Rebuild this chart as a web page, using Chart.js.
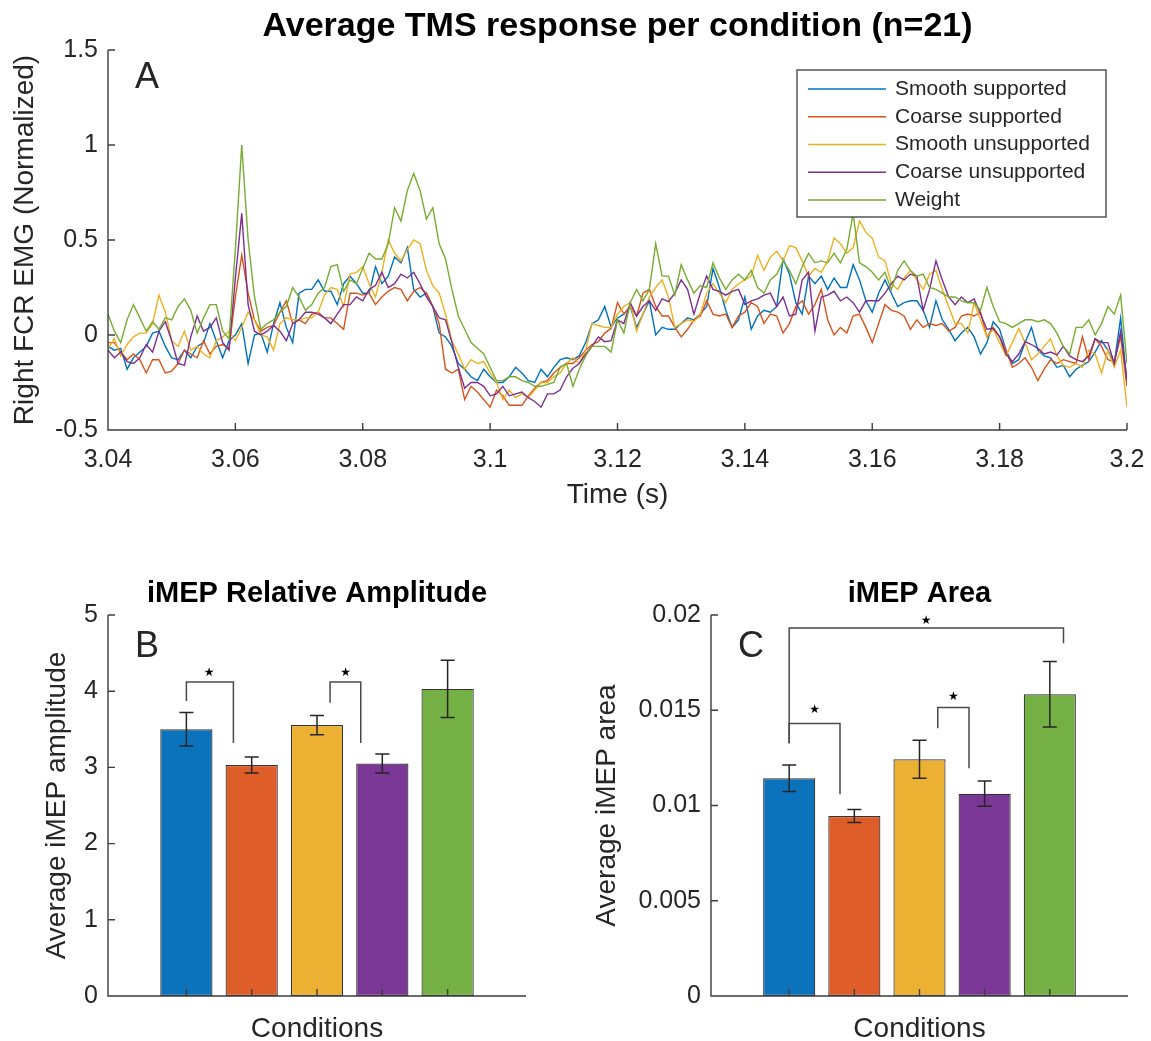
<!DOCTYPE html>
<html>
<head>
<meta charset="utf-8">
<script src="https://cdn.jsdelivr.net/npm/chart.js@4.4.1/dist/chart.umd.min.js"></script>
<style>
  html, body { margin: 0; padding: 0; background: #fff; }
  #wrap { position: relative; width: 1151px; height: 1041px; }
  canvas { position: absolute; }
</style>
</head>
<body>
<div id="wrap">
  <canvas id="emg" width="1151" height="530" style="left:0;top:0"></canvas>
  <canvas id="amp" width="575" height="481" style="left:0;top:560px"></canvas>
  <canvas id="area" width="576" height="481" style="left:575px;top:560px"></canvas>
</div>
<script>
// ---- data (panel A: 1 ms samples from 3.040 s to 3.200 s) ----
const conditions = ['Smooth supported', 'Coarse supported', 'Smooth unsupported', 'Coarse unsupported', 'Weight'];
const sampleStart = 3.04;
const sampleStep = 0.001;
const timeTicks = [3.04, 3.06, 3.08, 3.1, 3.12, 3.14, 3.16, 3.18, 3.2];
const emgTicks = [-0.5, 0, 0.5, 1, 1.5];

const smoothSupported = [
  -0.06,-0.08,-0.07,-0.18,-0.12,-0.09,-0.06,0.01,0.02,-0.06,
  -0.12,-0.13,-0.08,-0.12,-0.06,-0.04,0.06,-0.03,-0.12,-0.03,
  0.00,0.06,-0.15,0.00,0.01,-0.09,0.06,0.17,0.04,-0.04,
  0.22,0.24,0.24,0.29,0.23,0.23,0.16,0.27,0.31,0.27,
  0.22,0.22,0.36,0.27,0.31,0.41,0.38,0.46,0.24,0.20,
  0.22,0.15,0.01,-0.01,-0.06,-0.15,-0.18,-0.22,-0.24,-0.18,
  -0.22,-0.25,-0.25,-0.22,-0.17,-0.20,-0.24,-0.25,-0.18,-0.22,
  -0.17,-0.13,-0.12,-0.13,-0.11,-0.04,0.06,0.08,0.15,0.04,
  0.09,0.11,0.15,0.04,0.11,0.18,0.00,0.04,0.03,0.03,
  0.06,0.09,0.08,0.11,0.15,0.35,0.25,0.13,0.04,0.08,
  0.20,0.03,0.10,0.13,0.12,0.15,0.40,0.32,0.17,0.11,
  0.31,0.27,0.31,0.24,0.30,0.25,0.25,0.37,0.29,0.18,
  0.12,0.22,0.29,0.22,0.15,0.17,0.18,0.18,0.13,0.04,
  0.18,0.08,0.03,-0.03,0.01,0.04,-0.01,-0.10,-0.04,0.07,
  0.03,-0.08,-0.15,-0.13,-0.04,0.04,-0.08,-0.11,-0.12,-0.17,
  -0.16,-0.22,-0.18,-0.16,-0.14,-0.09,-0.03,-0.08,-0.15,0.09,
  -0.25
];
const coarseSupported = [
  -0.04,-0.04,-0.09,-0.13,-0.10,-0.13,-0.20,-0.13,-0.13,-0.20,
  -0.19,-0.15,-0.08,-0.10,-0.12,-0.03,-0.10,-0.06,-0.05,-0.07,
  0.20,0.42,0.22,0.08,0.02,0.04,0.05,0.12,0.18,0.06,
  0.08,0.06,0.11,0.12,0.09,0.09,0.06,0.03,0.22,0.22,
  0.21,0.22,0.16,0.20,0.23,0.25,0.24,0.18,0.23,0.25,
  0.22,0.15,0.06,-0.18,-0.20,-0.18,-0.34,-0.27,-0.30,-0.34,
  -0.38,-0.29,-0.32,-0.37,-0.37,-0.37,-0.32,-0.28,-0.25,-0.24,
  -0.20,-0.17,-0.15,-0.15,-0.12,-0.08,-0.05,-0.035,0.01,0.035,
  0.17,0.11,0.15,0.10,0.22,0.24,0.15,0.10,0.10,0.04,
  -0.01,0.03,0.08,0.10,0.18,0.11,0.10,0.11,0.04,0.10,
  0.12,0.17,0.15,0.06,0.11,0.10,0.01,0.06,0.15,0.18,
  0.11,0.16,0.24,0.08,0.00,0.04,0.01,0.10,0.11,0.04,
  -0.04,0.06,0.16,0.13,0.12,0.10,0.03,0.08,0.04,0.06,
  0.05,0.06,0.02,0.04,0.10,0.11,0.10,0.12,-0.01,0.04,
  -0.01,-0.08,-0.17,-0.15,-0.12,-0.17,-0.24,-0.18,-0.13,-0.15,
  -0.13,-0.14,-0.15,-0.01,-0.13,-0.02,-0.06,-0.13,-0.14,-0.01,
  -0.27
];
const smoothUnsupported = [
  -0.07,-0.02,-0.11,-0.05,-0.01,0.01,0.01,0.06,0.21,0.12,
  -0.03,-0.06,0.02,-0.08,-0.06,-0.10,-0.12,-0.03,-0.01,0.02,
  -0.03,0.04,0.12,0.08,0.00,-0.01,-0.08,0.06,0.09,0.08,
  0.08,0.09,0.09,0.12,0.21,0.25,0.24,0.15,0.32,0.33,
  0.36,0.27,0.20,0.33,0.50,0.43,0.39,0.45,0.50,0.48,
  0.34,0.26,0.22,0.11,-0.03,-0.10,-0.18,-0.13,-0.15,-0.14,
  -0.20,-0.25,-0.34,-0.29,-0.33,-0.31,-0.33,-0.29,-0.25,-0.25,
  -0.22,-0.20,-0.15,-0.12,-0.15,-0.08,0.06,0.05,0.04,0.04,
  0.11,0.15,0.17,0.02,0.11,0.20,0.25,0.29,0.20,0.04,
  0.06,0.08,0.07,0.11,0.22,0.27,0.22,0.17,0.24,0.27,
  0.29,0.31,0.42,0.34,0.41,0.44,0.39,0.47,0.46,0.39,
  0.31,0.35,0.33,0.39,0.51,0.48,0.43,0.46,0.60,0.54,
  0.51,0.41,0.39,0.27,0.24,0.30,0.34,0.29,0.24,0.32,
  0.34,0.24,0.15,0.06,0.06,0.01,0.17,0.08,-0.01,0.03,
  -0.04,-0.11,-0.04,0.035,-0.04,-0.13,-0.10,-0.06,-0.02,-0.11,
  -0.16,-0.17,-0.15,-0.17,-0.08,-0.10,-0.20,-0.08,-0.17,-0.08,
  -0.38
];
const coarseUnsupported = [
  -0.08,-0.12,-0.09,-0.14,-0.15,-0.12,-0.05,-0.09,0.02,0.07,
  -0.03,-0.15,-0.16,-0.01,0.10,0.02,0.04,0.09,-0.04,-0.08,
  0.30,0.64,0.16,0.02,0.00,0.02,0.05,0.02,-0.03,0.06,
  0.08,0.12,0.12,0.11,0.09,0.06,0.11,0.16,0.16,0.20,
  0.18,0.24,0.26,0.33,0.25,0.27,0.32,0.30,0.33,0.27,
  0.20,0.15,0.09,0.08,-0.04,-0.17,-0.28,-0.25,-0.25,-0.27,
  -0.32,-0.31,-0.27,-0.32,-0.31,-0.30,-0.33,-0.35,-0.38,-0.31,
  -0.31,-0.29,-0.22,-0.175,-0.15,-0.10,-0.06,-0.01,-0.035,-0.03,
  0.08,0.06,0.17,0.10,0.15,0.18,0.13,0.19,0.175,0.22,
  0.29,0.24,0.11,0.22,0.31,0.24,0.23,0.21,0.23,0.24,
  0.16,0.18,0.19,0.21,0.22,0.15,0.20,0.10,0.11,0.29,
  0.33,0.02,0.20,0.21,0.23,0.18,0.20,0.17,0.12,0.18,
  0.18,0.18,0.22,0.27,0.31,0.29,0.32,0.31,0.13,0.24,
  0.39,0.29,0.20,0.16,0.20,0.17,0.19,0.11,0.03,0.035,
  -0.01,-0.10,-0.14,-0.10,-0.035,-0.05,-0.07,-0.10,-0.09,-0.105,
  -0.06,-0.11,-0.13,-0.14,-0.11,-0.02,-0.04,-0.04,-0.15,0.02,
  -0.24
];
const weight = [
  0.11,0.02,-0.04,0.08,0.16,0.09,0.02,0.07,0.03,0.09,
  0.08,0.15,0.19,0.13,0.01,0.09,0.16,0.16,0.02,-0.02,
  0.45,1.00,0.50,0.20,0.03,0.06,0.08,0.12,0.15,0.25,
  0.20,0.13,0.16,0.22,0.25,0.36,0.37,0.23,0.29,0.27,
  0.35,0.43,0.40,0.40,0.48,0.67,0.60,0.76,0.85,0.76,
  0.61,0.67,0.48,0.40,0.24,0.10,0.03,-0.04,-0.07,-0.10,
  -0.17,-0.24,-0.24,-0.22,-0.22,-0.24,-0.25,-0.27,-0.27,-0.26,
  -0.25,-0.17,-0.15,-0.27,-0.18,-0.11,-0.06,-0.06,-0.06,-0.09,
  0.08,0.01,0.17,0.24,0.18,0.24,0.48,0.31,0.31,0.21,
  0.37,0.29,0.22,0.26,0.25,0.38,0.30,0.24,0.29,0.32,
  0.29,0.34,0.25,0.22,0.29,0.32,0.39,0.34,0.27,0.36,
  0.43,0.38,0.39,0.38,0.43,0.38,0.45,0.64,0.38,0.36,
  0.33,0.29,0.33,0.24,0.34,0.39,0.34,0.31,0.32,0.25,
  0.24,0.22,0.20,0.20,0.18,0.17,0.17,0.13,0.25,0.15,
  0.07,0.06,0.04,0.06,0.08,0.08,0.07,0.08,0.06,0.01,
  -0.06,-0.10,0.04,0.04,0.08,0.00,0.06,0.15,0.11,0.21,
  -0.15
];

// ---- data (panels B and C) ----
const ampMean = [3.50, 3.03, 3.555, 3.05, 4.03];
const ampErr = [0.22, 0.105, 0.125, 0.125, 0.375];
const ampTicks = [0, 1, 2, 3, 4, 5];
// bracket: [x left, x right, y top, y left leg end, y right leg end]
const ampBrackets = [[1, 1.72, 4.12, 3.87, 3.32], [3.2, 3.67, 4.12, 3.85, 3.32]];
const ampStars = [[1.35, 4.24], [3.44, 4.24]];

const areaMean = [0.01143, 0.00945, 0.01243, 0.01062, 0.01584];
const areaErr = [0.0007, 0.00034, 0.001, 0.00066, 0.00172];
const areaTicks = [0, 0.005, 0.01, 0.015, 0.02];
const areaBrackets = [[1, 5.21, 0.01932, 0.01327, 0.01852], [1, 1.78, 0.01431, 0.01327, 0.01059], [3.28, 3.76, 0.01515, 0.01405, 0.01195]];
const areaStars = [[3.1, 0.0197], [1.39, 0.01501], [3.52, 0.01568]];

const lineColors = ['#0072BD', '#D95319', '#EDB120', '#7E2F8E', '#77AC30'];
const barColors = ['#0b73bc', '#de5d29', '#ecb033', '#7a3795', '#74b043'];

const FONT = '"Liberation Sans", Arial, Helvetica, sans-serif';
const INK = '#262626';
Chart.defaults.font.family = FONT;

const timeS = smoothSupported.map((_, i) => +(sampleStart + i * sampleStep).toFixed(3));

// axes lines, inward ticks, titles, panel letter
const decoPlugin = {
  id: 'deco',
  afterDraw(chart, args, o) {
    const ctx = chart.ctx, a = chart.chartArea;
    const xs = chart.scales.x, ys = chart.scales.y;
    ctx.save();
    ctx.strokeStyle = '#3c3c3c';
    ctx.lineWidth = 1.4;
    ctx.beginPath();
    ctx.moveTo(a.left, a.top);
    ctx.lineTo(a.left, a.bottom);
    ctx.lineTo(a.right, a.bottom);
    xs.ticks.forEach(t => {
      const p = xs.getPixelForValue(t.value);
      ctx.moveTo(p, a.bottom);
      ctx.lineTo(p, a.bottom - o.tickLen);
    });
    ys.ticks.forEach(t => {
      const p = ys.getPixelForValue(t.value);
      ctx.moveTo(a.left, p);
      ctx.lineTo(a.left + o.tickLen, p);
    });
    ctx.stroke();

    const cx = (a.left + a.right) / 2;
    ctx.textAlign = 'center';
    ctx.textBaseline = 'middle';
    ctx.fillStyle = '#000';
    ctx.font = 'bold ' + o.titleSize + 'px ' + FONT;
    ctx.fillText(o.title, cx, o.titleY);
    ctx.fillStyle = INK;
    ctx.font = '28px ' + FONT;
    ctx.fillText(o.xTitle, cx, o.xTitleY);
    ctx.save();
    ctx.translate(o.yTitleX, (a.top + a.bottom) / 2);
    ctx.rotate(-Math.PI / 2);
    ctx.fillText(o.yTitle, 0, 0);
    ctx.restore();
    ctx.textAlign = 'left';
    ctx.textBaseline = 'alphabetic';
    ctx.font = '36px ' + FONT;
    ctx.fillText(o.letter, o.letterX, o.letterY);
    ctx.restore();
  }
};

const boxLegend = {
  id: 'boxLegend',
  afterDraw(chart, args, o) {
    if (!o.show) return;
    const ctx = chart.ctx;
    ctx.save();
    ctx.fillStyle = '#fff';
    ctx.fillRect(o.x, o.y, o.w, o.h);
    ctx.strokeStyle = '#3c3c3c';
    ctx.lineWidth = 1.3;
    ctx.strokeRect(o.x, o.y, o.w, o.h);
    ctx.font = '21px ' + FONT;
    ctx.textBaseline = 'middle';
    ctx.fillStyle = INK;
    chart.data.datasets.forEach((ds, i) => {
      const y = o.y + o.first + i * o.gap;
      ctx.strokeStyle = ds.borderColor;
      ctx.lineWidth = 1.5;
      ctx.beginPath();
      ctx.moveTo(o.x + 11, y);
      ctx.lineTo(o.x + 89, y);
      ctx.stroke();
      ctx.fillText(ds.label, o.x + 98, y);
    });
    ctx.restore();
  }
};

const errorBars = {
  id: 'errorBars',
  afterDatasetsDraw(chart, args, o) {
    const ctx = chart.ctx, xs = chart.scales.x, ys = chart.scales.y;
    ctx.save();
    chart.data.datasets.forEach((ds, di) => {
      if (!ds.errors) return;
      const meta = chart.getDatasetMeta(di);
      ctx.strokeStyle = INK;
      ctx.lineWidth = 1.5;
      meta.data.forEach((bar, i) => {
        const v = ds.data[i].y, e = ds.errors[i];
        const top = ys.getPixelForValue(v + e), bot = ys.getPixelForValue(v - e);
        ctx.beginPath();
        ctx.moveTo(bar.x, top); ctx.lineTo(bar.x, bot);
        ctx.moveTo(bar.x - 7, top); ctx.lineTo(bar.x + 7, top);
        ctx.moveTo(bar.x - 7, bot); ctx.lineTo(bar.x + 7, bot);
        ctx.stroke();
      });
    });
    // significance stars
    ctx.fillStyle = '#000';
    ctx.font = '12px "DejaVu Sans", sans-serif';
    ctx.textAlign = 'center';
    ctx.textBaseline = 'middle';
    (o.stars || []).forEach(s => {
      ctx.fillText('\u2605', xs.getPixelForValue(s[0]), ys.getPixelForValue(s[1]));
    });
    ctx.restore();
  }
};

// keep the plot box fixed: no extra room for overhanging edge labels
function fixBox(s, size) {
  if (s.isHorizontal()) s.height = size; else s.width = size;
  s.paddingLeft = 0;
  s.paddingRight = 0;
  s.paddingTop = 0;
  s.paddingBottom = 0;
}

// ---- panel A ----
new Chart(document.getElementById('emg'), {
  type: 'line',
  data: {
    datasets: [smoothSupported, coarseSupported, smoothUnsupported, coarseUnsupported, weight].map((s, i) => ({
      label: conditions[i],
      data: s.map((v, k) => ({ x: timeS[k], y: v })),
      borderColor: lineColors[i],
      borderWidth: 1.4,
      pointRadius: 0,
      tension: 0,
      order: 4 - i
    }))
  },
  options: {
    responsive: false,
    animation: false,
    layout: { padding: { top: 50, right: 24, left: 0, bottom: 0 } },
    scales: {
      x: {
        type: 'linear', min: 3.04, max: 3.2,
        afterBuildTicks: s => { s.ticks = timeTicks.map(v => ({ value: v })); },
        afterFit: s => fixBox(s, 100),
        grid: { display: false, drawTicks: false },
        border: { display: false },
        ticks: { color: INK, font: { size: 25 }, padding: 15, maxRotation: 0, autoSkip: false,
                 callback: v => String(+v.toFixed(2)) }
      },
      y: {
        min: -0.5, max: 1.5,
        afterBuildTicks: s => { s.ticks = emgTicks.map(v => ({ value: v })); },
        afterFit: s => fixBox(s, 108),
        grid: { display: false, drawTicks: false },
        border: { display: false },
        ticks: { color: INK, font: { size: 25 }, padding: 10, callback: v => String(v) }
      }
    },
    plugins: {
      legend: { display: false },
      tooltip: { enabled: false },
      deco: { tickLen: 7, title: 'Average TMS response per condition (n=21)', titleSize: 34, titleY: 27,
              xTitle: 'Time (s)', xTitleY: 495, yTitle: 'Right FCR EMG (Normalized)', yTitleX: 25,
              letter: 'A', letterX: 135, letterY: 88 },
      boxLegend: { show: true, x: 797, y: 70, w: 309, h: 147, first: 19, gap: 27.75 }
    }
  },
  plugins: [decoPlugin, boxLegend]
});

// ---- panels B and C ----
function barPanel(id, means, errs, ticks, brackets, stars, yMax, yWidth, padRight, deco) {
  const bars = {
    type: 'bar',
    label: 'mean',
    data: means.map((v, i) => ({ x: i + 1, y: v })),
    errors: errs,
    backgroundColor: barColors,
    borderColor: '#333333',
    borderWidth: 1.2,
    borderSkipped: false,
    barPercentage: 1,
    categoryPercentage: 0.8,
    order: 2
  };
  const lines = brackets.map(b => ({
    type: 'line',
    data: [{ x: b[0], y: b[3] }, { x: b[0], y: b[2] }, { x: b[1], y: b[2] }, { x: b[1], y: b[4] }],
    borderColor: '#4a4a4a',
    borderWidth: 1.5,
    pointRadius: 0,
    tension: 0,
    order: 0
  }));
  return new Chart(document.getElementById(id), {
    type: 'bar',
    data: { datasets: [bars].concat(lines) },
    options: {
      responsive: false,
      animation: false,
      layout: { padding: { top: 55, right: padRight, left: 0, bottom: 0 } },
      scales: {
        x: {
          type: 'linear', min: -0.2, max: 6.2, offset: false,
          afterBuildTicks: s => { s.ticks = conditions.map((_, i) => ({ value: i + 1 })); },
          afterFit: s => fixBox(s, 45),
          grid: { display: false, drawTicks: false },
          border: { display: false },
          ticks: { display: false }
        },
        y: {
          min: 0, max: yMax,
          afterBuildTicks: s => { s.ticks = ticks.map(v => ({ value: v })); },
          afterFit: s => fixBox(s, yWidth),
          grid: { display: false, drawTicks: false },
          border: { display: false },
          ticks: { color: INK, font: { size: 25 }, padding: 10, callback: v => String(v) }
        }
      },
      plugins: {
        legend: { display: false },
        tooltip: { enabled: false },
        deco: deco,
        errorBars: { stars: stars }
      }
    },
    plugins: [decoPlugin, errorBars]
  });
}

barPanel('amp', ampMean, ampErr, ampTicks, ampBrackets, ampStars, 5, 108, 49,
  { tickLen: 7, title: 'iMEP Relative Amplitude', titleSize: 29, titleY: 34,
    xTitle: 'Conditions', xTitleY: 469, yTitle: 'Average iMEP amplitude', yTitleX: 57,
    letter: 'B', letterX: 135, letterY: 97 });

barPanel('area', areaMean, areaErr, areaTicks, areaBrackets, areaStars, 0.02, 136, 23,
  { tickLen: 7, title: 'iMEP Area', titleSize: 29, titleY: 34,
    xTitle: 'Conditions', xTitleY: 469, yTitle: 'Average iMEP area', yTitleX: 32,
    letter: 'C', letterX: 163, letterY: 97 });
</script>
</body>
</html>
